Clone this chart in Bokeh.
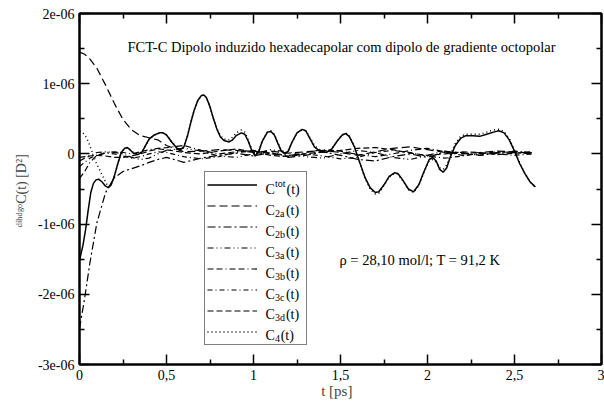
from bokeh.plotting import figure
from bokeh.models import FixedTicker, LinearAxis, Label, Legend, LegendItem, Range1d
from bokeh.embed import file_html
from bokeh.resources import INLINE

# ---------------- data (C in units of 1e-06 D^2) ----------------
t_tot = [0.00, 0.02, 0.035, 0.05, 0.065, 0.08, 0.095, 0.11, 0.13, 0.15,
         0.165, 0.18, 0.20, 0.22, 0.24, 0.26, 0.275, 0.29, 0.31, 0.335,
         0.36, 0.38, 0.40, 0.43, 0.46, 0.48, 0.50, 0.53, 0.56, 0.58,
         0.60, 0.62, 0.64, 0.66, 0.68, 0.70, 0.715, 0.73, 0.75, 0.77,
         0.79, 0.81, 0.83, 0.86, 0.88, 0.90, 0.93, 0.95, 0.97, 0.99,
         1.01, 1.03, 1.05, 1.08, 1.10, 1.12, 1.14, 1.16, 1.18, 1.20,
         1.22, 1.25, 1.28, 1.30, 1.32, 1.35, 1.38, 1.42, 1.45, 1.48,
         1.51, 1.53, 1.55, 1.58, 1.61, 1.64, 1.67, 1.70, 1.72, 1.75,
         1.78, 1.81, 1.83, 1.86, 1.89, 1.92, 1.95, 1.98, 2.01, 2.03,
         2.05, 2.07, 2.09, 2.11, 2.13, 2.16, 2.19, 2.22, 2.26, 2.30,
         2.34, 2.38, 2.41, 2.44, 2.47, 2.50, 2.53, 2.56, 2.59, 2.62]
c_tot = [-1.52, -1.30, -1.08, -0.80, -0.55, -0.42, -0.37, -0.36, -0.40, -0.46,
         -0.48, -0.45, -0.32, -0.14, 0.02, 0.08, 0.09, 0.06, 0.01, -0.01,
         0.03, 0.12, 0.21, 0.27, 0.30, 0.30, 0.27, 0.17, 0.08, 0.06,
         0.10, 0.25, 0.45, 0.63, 0.76, 0.83, 0.84, 0.80, 0.67, 0.50,
         0.35, 0.24, 0.19, 0.17, 0.20, 0.26, 0.30, 0.28, 0.18, 0.05,
         -0.03, 0.03, 0.18, 0.31, 0.32, 0.27, 0.15, 0.04, 0.00, 0.04,
         0.16, 0.30, 0.35, 0.33, 0.24, 0.10, 0.04, 0.02, 0.07, 0.18,
         0.27, 0.29, 0.25, 0.10, -0.12, -0.33, -0.48, -0.55, -0.54, -0.44,
         -0.32, -0.27, -0.28, -0.38, -0.50, -0.54, -0.44, -0.25, -0.08, -0.05,
         -0.10, -0.22, -0.26, -0.20, -0.05, 0.12, 0.22, 0.26, 0.26, 0.25,
         0.28, 0.31, 0.33, 0.30, 0.20, 0.04, -0.14, -0.28, -0.40, -0.47]
c_4 = [0.32, 0.30, 0.25, 0.18, 0.08, -0.02, -0.12, -0.20, -0.30, -0.40,
       -0.47, -0.45, -0.32, -0.14, 0.02, 0.08, 0.09, 0.06, 0.02, 0.00,
       0.03, 0.12, 0.21, 0.27, 0.30, 0.30, 0.27, 0.17, 0.09, 0.07,
       0.10, 0.25, 0.45, 0.63, 0.76, 0.83, 0.84, 0.80, 0.67, 0.50,
       0.36, 0.26, 0.21, 0.20, 0.24, 0.30, 0.34, 0.31, 0.20, 0.06,
       -0.02, 0.04, 0.18, 0.31, 0.33, 0.28, 0.16, 0.05, 0.01, 0.05,
       0.16, 0.30, 0.34, 0.33, 0.25, 0.12, 0.06, 0.03, 0.07, 0.18,
       0.27, 0.30, 0.26, 0.11, -0.12, -0.34, -0.50, -0.57, -0.56, -0.45,
       -0.33, -0.28, -0.29, -0.39, -0.51, -0.55, -0.45, -0.26, -0.10, -0.08,
       -0.12, -0.20, -0.22, -0.16, -0.02, 0.15, 0.25, 0.28, 0.28, 0.28,
       0.31, 0.34, 0.35, 0.32, 0.22, 0.05, -0.13, -0.28, -0.40, -0.48]

t_s = [0.00, 0.03, 0.06, 0.10, 0.15, 0.20, 0.25, 0.30, 0.35, 0.40, 0.45, 0.50,
       0.60, 0.70, 0.80, 0.90, 1.00, 1.10, 1.20, 1.30, 1.40, 1.50, 1.60, 1.70,
       1.80, 1.90, 2.00, 2.10, 2.20, 2.30, 2.40, 2.50, 2.60]
c_2a = [1.45, 1.42, 1.35, 1.22, 0.98, 0.72, 0.49, 0.34, 0.26, 0.23, 0.20, 0.12,
        0.03, 0.04, 0.06, 0.05, 0.02, 0.04, 0.01, 0.03, 0.05, 0.02, -0.02, 0.03,
        0.08, 0.10, 0.06, 0.02, 0.00, 0.02, 0.04, 0.03, 0.01]
c_2b = [-2.49, -2.05, -1.55, -0.98, -0.55, -0.34, -0.25, -0.21, -0.17, -0.12, -0.08, -0.05,
        -0.12, -0.06, -0.02, 0.01, -0.03, 0.02, -0.05, -0.02, 0.03, -0.02, -0.08, -0.10,
        -0.04, 0.00, -0.05, 0.03, 0.02, -0.02, 0.01, 0.02, 0.00]
c_3a = [-0.05, -0.04, -0.02, 0.02, 0.03, 0.02, 0.00, -0.05, -0.08, -0.06, 0.00, 0.05,
        0.08, 0.04, -0.03, -0.05, 0.00, 0.06, 0.03, -0.04, -0.06, 0.00, 0.05, 0.02,
        -0.05, -0.08, -0.02, 0.04, 0.01, -0.02, 0.02, 0.04, 0.02]
c_3b = [-0.35, -0.25, -0.12, -0.02, 0.02, 0.03, 0.02, 0.00, 0.03, 0.06, 0.08, 0.09,
        0.12, 0.05, 0.00, 0.03, 0.05, 0.00, -0.03, 0.02, 0.06, 0.04, -0.01, -0.04,
        0.00, 0.05, 0.08, 0.03, -0.02, 0.00, 0.03, 0.02, 0.03]
c_3c = [-0.18, -0.12, -0.06, -0.02, 0.01, 0.00, -0.03, -0.06, -0.04, 0.00, 0.03, 0.02,
        -0.04, -0.07, -0.04, 0.02, 0.04, 0.01, -0.02, 0.00, -0.03, -0.07, -0.05, 0.02,
        0.05, 0.02, -0.03, -0.06, -0.03, 0.01, 0.00, -0.02, 0.00]
c_3d = [-0.10, -0.06, -0.03, -0.02, -0.03, -0.05, -0.05, -0.03, 0.00, 0.04, 0.07, 0.06,
        0.02, 0.00, 0.04, 0.07, 0.03, -0.02, -0.04, 0.00, 0.03, 0.05, 0.08, 0.09,
        0.06, 0.01, -0.02, 0.00, 0.03, 0.02, -0.01, 0.01, 0.02]

x_major = [0, 0.5, 1, 1.5, 2, 2.5, 3]
x_minor = [0.25, 0.75, 1.25, 1.75, 2.25, 2.75]
y_major = [-3, -2, -1, 0, 1, 2]
y_minor = [-2.5, -1.5, -0.5, 0.5, 1.5]
x_labels = {0: "0", 0.5: "0,5", 1: "1", 1.5: "1,5", 2: "2", 2.5: "2,5", 3: "3"}
y_labels = {2: "2e-06", 1: "1e-06", 0: "0", -1: "-1e-06", -2: "-2e-06", -3: "-3e-06"}

series_names = ["Ctot(t)", "C2a(t)", "C2b(t)", "C3a(t)", "C3b(t)", "C3c(t)", "C3d(t)", "C4(t)"]
legend_scripts = [("tot", "sup"), ("2a", "sub"), ("2b", "sub"), ("3a", "sub"),
                  ("3b", "sub"), ("3c", "sub"), ("3d", "sub"), ("4", "sub")]
title_text = "FCT-C Dipolo induzido hexadecapolar com dipolo de gradiente octopolar"
note_text = "\u03c1 = 28,10 mol/l; T = 91,2 K"
y_title = "\u1d48\u2071\u02b0\u1d48\u1d4d\u1d52C(t)  [D\u00b2]"
x_title = "t   [ps]"

# ---------------- figure ----------------
FONT = "Liberation Serif"
p = figure(width=604, height=401, x_range=Range1d(0, 3), y_range=Range1d(-3, 2),
           output_backend="svg", toolbar_location=None,
           min_border_left=79, min_border_right=3, min_border_top=13, min_border_bottom=34)
p.background_fill_color = "white"
p.border_fill_color = "white"
p.outline_line_color = "black"
p.outline_line_width = 2
p.xgrid.visible = False
p.ygrid.visible = False


def style_axis(ax, show_labels, ticks=None):
    ax.axis_line_width = 2
    ax.major_tick_in = 10
    ax.major_tick_out = 0
    ax.minor_tick_in = 5
    ax.minor_tick_out = 0
    ax.major_tick_line_width = 1.5
    ax.minor_tick_line_width = 1.5
    ax.major_label_text_font = FONT
    ax.major_label_text_color = "black"
    if show_labels:
        ax.major_label_text_font_size = "14px"
        ax.major_label_standoff = 5
    else:
        ax.major_label_text_font_size = "0px"
        ax.major_label_standoff = 0
        ax.major_label_overrides = {v: "" for v in ticks}


xa = p.xaxis[0]
xa.ticker = FixedTicker(ticks=x_major, minor_ticks=x_minor)
xa.major_label_overrides = x_labels
style_axis(xa, True)
xa.major_label_standoff = 5
xa.axis_label = x_title
xa.axis_label_text_font = FONT
xa.axis_label_text_font_style = "normal"
xa.axis_label_text_font_size = "15px"
xa.axis_label_standoff = 0

ya = p.yaxis[0]
ya.ticker = FixedTicker(ticks=y_major, minor_ticks=y_minor)
ya.major_label_overrides = y_labels
style_axis(ya, True)
ya.axis_label = y_title
ya.axis_label_text_font = FONT
ya.axis_label_text_font_style = "normal"
ya.axis_label_text_font_size = "14px"
ya.axis_label_standoff = 6

top = LinearAxis(ticker=FixedTicker(ticks=x_major, minor_ticks=x_minor))
style_axis(top, False, x_major)
p.add_layout(top, "above")
right = LinearAxis(ticker=FixedTicker(ticks=y_major, minor_ticks=y_minor))
style_axis(right, False, y_major)
p.add_layout(right, "right")

# ---------------- curves ----------------
r2a = p.line(t_s, c_2a, line_color="black", line_width=1.2, line_dash="8 4")
r2b = p.line(t_s, c_2b, line_color="black", line_width=1.2, line_dash="8 3 2 3")
r3a = p.line(t_s, c_3a, line_color="black", line_width=1.2, line_dash="6 3 1 3 1 3")
r3b = p.line(t_s, c_3b, line_color="black", line_width=1.2, line_dash="6 3 6 3 1 3")
r3c = p.line(t_s, c_3c, line_color="black", line_width=1.2, line_dash="5 3 1 3")
r3d = p.line(t_s, c_3d, line_color="black", line_width=1.2, line_dash="6 3")
rtot = p.line(t_tot, c_tot, line_color="black", line_width=1.5)
r4 = p.line(t_tot, c_4, line_color="black", line_width=1.5, line_dash="1 3")

renderers = [rtot, r2a, r2b, r3a, r3b, r3c, r3d, r4]
legend = Legend(items=[LegendItem(label=n, renderers=[r]) for n, r in zip(series_names, renderers)],
                location=(125, 19), padding=2, spacing=0, margin=0,
                label_height=21, glyph_height=21, glyph_width=50, label_standoff=10,
                label_text_font=FONT, label_text_font_size="14px", label_text_alpha=0,
                border_line_color="black", border_line_width=1.5,
                background_fill_color="white", background_fill_alpha=0)
p.add_layout(legend)

# ---------------- texts ----------------
X0, XS = 79.0, 174.0
Y0, YS = 154.6, 70.8


def tx(sx):
    return (sx - X0) / XS


def ty(sy):
    return (Y0 - sy) / YS


def lab(text, sx, sy, size, align="left", baseline="middle"):
    p.add_layout(Label(x=tx(sx), y=ty(sy), text=text, text_font=FONT,
                       text_font_size=f"{size}px", text_align=align,
                       text_baseline=baseline, text_color="black", level="overlay"))


lab(title_text, 341, 47, 14.5, align="center")
lab(note_text, 339, 262, 14.5)

# legend texts (with sub/superscripts)
for i, (scr, kind) in enumerate(legend_scripts):
    yc = 186 + 21 * i
    lab("C", 265, yc + 5, 14, baseline="alphabetic")
    if kind == "sup":
        lab(scr, 274.5, yc - 2, 10, baseline="alphabetic")
    else:
        lab(scr, 274.5, yc + 8, 10, baseline="alphabetic")
    wpx = 5.2 * len(scr) if scr != "tot" else 11
    lab("(t)", 275 + wpx, yc + 5, 14, baseline="alphabetic")

open("out.html", "w").write(file_html(p, INLINE))
